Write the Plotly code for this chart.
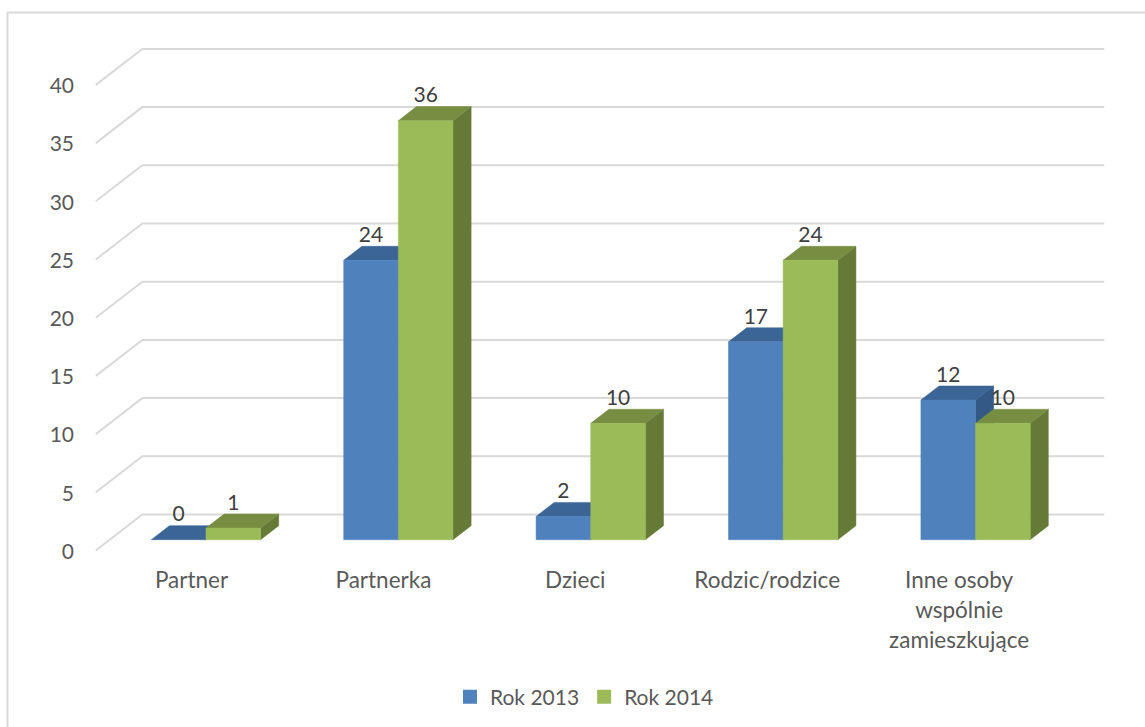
import plotly.graph_objects as go

categories = ["Partner", "Partnerka", "Dzieci", "Rodzic/rodzice", "Inne osoby<br>wspólnie<br>zamieszkujące"]
rok_2013 = [0, 24, 2, 17, 12]
rok_2014 = [1, 36, 10, 24, 10]
y_ticks = [0, 5, 10, 15, 20, 25, 30, 35, 40]

W, H = 1145, 727
X_PER_CAT = 192.4     # px per category
Y_PER_UNIT = 11.64    # px per value unit
X0_PX = 192.0         # px of first category on the front floor edge
Y0_PX = 550.5         # px of value 0 on the front floor edge
DEPTH_X = 46.5 / X_PER_CAT   # oblique depth, category units
DEPTH_Y = 36.0 / Y_PER_UNIT  # oblique depth, value units
Z0, Z1 = 0.30, 0.69   # bar depth span
BAR_W = 0.284
GRID = "#d9d9d9"
TEXT = "#595959"
FONT = "Lato, Carlito, Calibri, sans-serif"


def proj(x, y, z):
    return x + z * DEPTH_X, y + z * DEPTH_Y


def polys(rects):
    xs, ys = [], []
    for pts in rects:
        for p in pts + [pts[0]]:
            px, py = proj(*p)
            xs.append(px)
            ys.append(py)
        xs.append(None)
        ys.append(None)
    return xs, ys


fig = go.Figure()

# walls: gridlines
gx, gy = [], []
for v in y_ticks:
    for p in [(-0.5, v, 0), (-0.5, v, 1), (4.5, v, 1)]:
        px, py = proj(*p)
        gx.append(px)
        gy.append(py)
    gx.append(None)
    gy.append(None)
fig.add_trace(go.Scatter(x=gx, y=gy, mode="lines", line=dict(color=GRID, width=2),
                         showlegend=False, hoverinfo="skip"))

series = [
    ("Rok 2013", rok_2013, -BAR_W, "#4f81bd", "#3a6595", "#335a87"),
    ("Rok 2014", rok_2014, 0.0, "#9bbb59", "#778e42", "#667a37"),
]
for name, vals, off, front, top, side in series:
    side_p, top_p, front_p = [], [], []
    for i, v in enumerate(vals):
        l, r = i + off, i + off + BAR_W
        side_p.append([(r, 0, Z0), (r, v, Z0), (r, v, Z1), (r, 0, Z1)])
        top_p.append([(l, v, Z0), (r, v, Z0), (r, v, Z1), (l, v, Z1)])
        if v > 0:
            front_p.append([(l, 0, Z0), (r, 0, Z0), (r, v, Z0), (l, v, Z0)])
    for pts, col in ((side_p, side), (top_p, top), (front_p, front)):
        xs, ys = polys(pts)
        fig.add_trace(go.Scatter(x=xs, y=ys, mode="lines", fill="toself", fillcolor=col,
                                 line=dict(color=col, width=0.5),
                                 showlegend=False, hoverinfo="skip"))

# data labels
for name, vals, off, *_ in series:
    lx, ly = [], []
    for i, v in enumerate(vals):
        px, _y = proj(i + off + BAR_W / 2, v, Z0)
        _x, py = proj(i, v, Z0)
        lx.append(px)
        ly.append(py + 13 / Y_PER_UNIT)
    fig.add_trace(go.Scatter(x=lx, y=ly, mode="text", text=[str(v) for v in vals],
                             textposition="top center",
                             textfont=dict(family=FONT, size=21, color="#404040"),
                             showlegend=False, hoverinfo="skip"))

# legend entries
for name, vals, off, front, *_ in series:
    fig.add_trace(go.Scatter(x=[None], y=[None], mode="markers", name=name,
                             marker=dict(symbol="square", size=14, color=front)))

x_rng = [(0 - X0_PX) / X_PER_CAT, (W - X0_PX) / X_PER_CAT]
y_rng = [(Y0_PX - H) / Y_PER_UNIT, Y0_PX / Y_PER_UNIT]

SPAN_OPEN = '<span style="font-size:22.5px">'
tick_text = [SPAN_OPEN + c.replace("<br>", "</span><br>" + SPAN_OPEN) + "</span>" for c in categories]
TICK_PX = 191.9
tick_vals = [(191.5 + TICK_PX * i - X0_PX) / X_PER_CAT for i in range(len(categories))]

fig.update_layout(
    width=W, height=H, autosize=False,
    margin=dict(l=0, r=0, t=0, b=0),
    paper_bgcolor="white", plot_bgcolor="white",
    showlegend=True,
    legend=dict(orientation="h", x=0.393, y=0.041, xanchor="left", yanchor="middle",
                font=dict(family=FONT, size=21, color=TEXT), bgcolor="rgba(0,0,0,0)"),
    xaxis=dict(range=x_rng, domain=[0, 1], anchor="free", position=(H - 564) / H,
               tickmode="array", tickvals=tick_vals,
               ticktext=tick_text,
               tickfont=dict(family=FONT, size=23, color=TEXT),
               showgrid=False, zeroline=False, showline=False, ticks="", tickangle=0),
    yaxis=dict(range=y_rng, domain=[0, 1], anchor="free", position=74 / W,
               tickmode="array", tickvals=y_ticks, ticktext=[str(t) for t in y_ticks],
               tickfont=dict(family=FONT, size=21, color=TEXT), ticklabelshift=1,
               showgrid=False, zeroline=False, showline=False, ticks=""),
    shapes=[
        dict(type="line", xref="paper", yref="paper", x0=7.5 / W, x1=7.5 / W, y0=0, y1=1 - 12.5 / H,
             line=dict(color=GRID, width=2)),
        dict(type="line", xref="paper", yref="paper", x0=7 / W, x1=1, y0=1 - 12.5 / H, y1=1 - 12.5 / H,
             line=dict(color=GRID, width=2)),
    ],
)
fig.write_html("out.html", post_script="document.body.style.margin='0';",
               config={"displayModeBar": False})
